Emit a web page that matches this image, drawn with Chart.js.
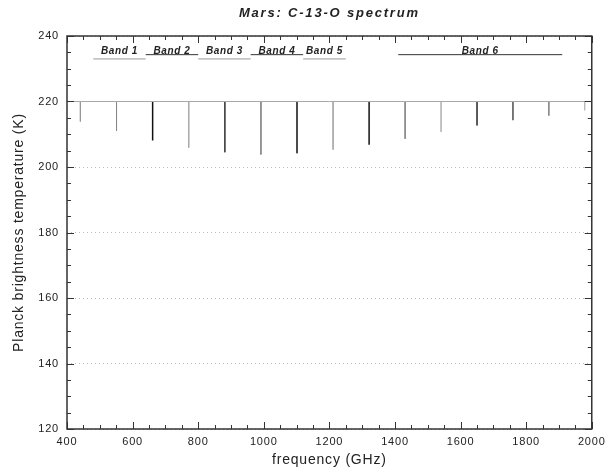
<!DOCTYPE html>
<html>
<head>
<meta charset="utf-8">
<script src="https://cdn.jsdelivr.net/npm/chart.js@4/dist/chart.umd.min.js"></script>
<style>
	html, body { margin: 0; padding: 0; background: #fff; }
	#wrap { width: 610px; height: 472px; }
</style>
</head>
<body>
<div id="wrap"><canvas id="spectrumChart" width="610" height="472"></canvas></div>
<script>
// C-13-O rotational lines (GHz) and depth of each absorption (K)
const lineFreqs = [440.8, 551.0, 661.1, 771.2, 881.3, 991.3, 1101.3, 1211.3, 1321.1, 1430.9, 1540.6, 1650.2, 1759.7, 1869.1, 1978.4];
const lineMins = [213.9, 211.0, 208.1, 205.9, 204.5, 203.8, 204.2, 205.3, 206.8, 208.6, 210.7, 212.7, 214.3, 215.7, 217.3];
const continuumFreqs = [400, 2000];
const continuumTemp = [220, 220];

// HIFI band coverage
const bandNames = ["Band 1", "Band 2", "Band 3", "Band 4", "Band 5", "Band 6"];
const bandStart = [480, 640, 800, 960, 1120, 1410];
const bandEnd = [640, 800, 960, 1120, 1250, 1910];
const bandLevel = [233.0, 234.3, 233.0, 234.3, 233.0, 234.3];
const bandLabelLevel = 234.6;

const xTicks = [400, 600, 800, 1000, 1200, 1400, 1600, 1800, 2000];
const yTicks = [120, 140, 160, 180, 200, 220, 240];

const lineColors = ["#999", "#888", "#111", "#aaa", "#444", "#888", "#333", "#aaa", "#111", "#888", "#bbb", "#444", "#666", "#888", "#bbb"];
const bandColors = ["#999", "#333", "#999", "#333", "#999", "#333"];
const FONT = "'Liberation Sans', Arial, sans-serif";

const datasets = [];
datasets.push({
	data: continuumFreqs.map((f, i) => ({ x: f, y: continuumTemp[i] })),
	borderColor: "#a8a8a8",
	borderWidth: 1,
});
lineFreqs.forEach((f, i) => {
	datasets.push({
		data: [{ x: f, y: continuumTemp[0] }, { x: f, y: lineMins[i] }],
		borderColor: lineColors[i],
		borderWidth: lineColors[i] === "#111" ? 1.5 : 1,
	});
});
bandNames.forEach((name, i) => {
	datasets.push({
		data: [{ x: bandStart[i], y: bandLevel[i] }, { x: bandEnd[i], y: bandLevel[i] }],
		borderColor: bandColors[i],
		borderWidth: 1,
	});
});

const framePlugin = {
	id: "frame",
	beforeDraw(chart) {
		chart.ctx.letterSpacing = "0.8px";
	},
	afterDraw(chart) {
		const ctx = chart.ctx;
		const a = chart.chartArea;
		const xs = chart.scales.x;
		const ys = chart.scales.y;
		ctx.save();
		ctx.strokeStyle = "#333";
		ctx.lineWidth = 1;
		ctx.beginPath();
		for (let v = 400; v <= 2000; v += 50) {
			const px = Math.round(xs.getPixelForValue(v)) + 0.5;
			const len = v % 200 === 0 ? 7 : 4;
			ctx.moveTo(px, a.bottom); ctx.lineTo(px, a.bottom - len);
			ctx.moveTo(px, a.top); ctx.lineTo(px, a.top + len);
		}
		for (let v = 120; v <= 240; v += 5) {
			const py = Math.round(ys.getPixelForValue(v)) + 0.5;
			const len = v % 20 === 0 ? 7 : 4;
			ctx.moveTo(a.left, py); ctx.lineTo(a.left + len, py);
			ctx.moveTo(a.right, py); ctx.lineTo(a.right - len, py);
		}
		ctx.stroke();
		ctx.lineWidth = 1.5;
		ctx.strokeRect(a.left, a.top, a.right - a.left, a.bottom - a.top);

		// band labels
		ctx.fillStyle = "#222";
		ctx.font = "italic bold 10px " + FONT;
		ctx.letterSpacing = "0.6px";
		ctx.textAlign = "center";
		ctx.textBaseline = "alphabetic";
		bandNames.forEach((name, i) => {
			const cx = xs.getPixelForValue((bandStart[i] + bandEnd[i]) / 2);
			const cy = ys.getPixelForValue(bandLabelLevel);
			ctx.fillText(name, cx, cy);
		});

		// title
		ctx.font = "italic bold 13px " + FONT;
		ctx.letterSpacing = "1.8px";
		ctx.fillText("Mars: C-13-O spectrum", (a.left + a.right) / 2, 17);
		ctx.restore();
	},
};

new Chart(document.getElementById("spectrumChart").getContext("2d"), {
	type: "line",
	data: { datasets: datasets },
	options: {
		responsive: false,
		animation: false,
		layout: { padding: { top: 36, right: 18, left: 0, bottom: 0 } },
		elements: { point: { radius: 0 }, line: { tension: 0 } },
		plugins: { legend: { display: false }, tooltip: { enabled: false } },
		scales: {
			x: {
				type: "linear",
				min: 400,
				max: 2000,
				afterBuildTicks: (s) => { s.ticks = xTicks.map((v) => ({ value: v })); },
				afterFit: (s) => { s.height = 43; },
				grid: { display: false, drawTicks: false },
				border: { display: false },
				ticks: { color: "#222", font: { family: FONT, size: 11 }, padding: 6, maxRotation: 0, callback: (v) => String(v) },
				title: { display: true, text: "frequency (GHz)", color: "#222", font: { family: FONT, size: 14 }, padding: { top: 0, bottom: 3 } },
			},
			y: {
				type: "linear",
				min: 120,
				max: 240,
				afterBuildTicks: (s) => { s.ticks = yTicks.map((v) => ({ value: v })); },
				afterFit: (s) => { s.width = 67; },
				grid: { color: "#bbb", lineWidth: 1, drawTicks: false },
				border: { display: false, dash: [1, 3] },
				ticks: { color: "#222", font: { family: FONT, size: 11 }, padding: 8, callback: (v) => String(v) },
				title: { display: true, text: "Planck brightness temperature (K)", color: "#222", font: { family: FONT, size: 14 }, padding: { top: 11, bottom: 0 } },
			},
		},
	},
	plugins: [framePlugin],
});
</script>
</body>
</html>
